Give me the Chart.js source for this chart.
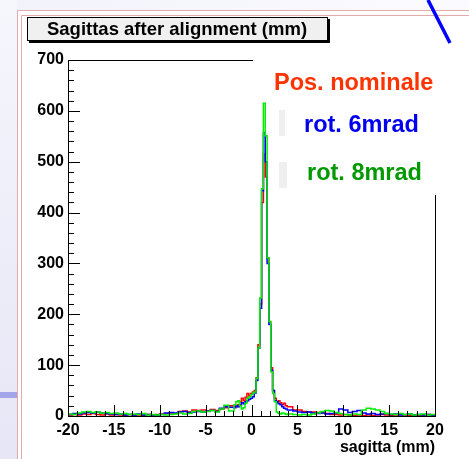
<!DOCTYPE html>
<html>
<head>
<meta charset="utf-8">
<script src="https://cdn.jsdelivr.net/npm/chart.js@4.4.0/dist/chart.umd.min.js"></script>
<style>
  body { margin: 0; background: #fff; }
  canvas { display: block; }
</style>
</head>
<body>
<canvas id="sagitta-chart" width="469" height="459"></canvas>
<script>
// Histogram bin edges (mm): coarse tails, fine bins round the peak
var binEdges = [
  -20, -19.5, -19, -18.5, -18, -17.5, -17, -16.5, -16, -15.5, -15, -14.5, -14, -13.5, -13, -12.5, -12, -11.5,
  -11, -10.5, -10, -9.5, -9, -8.5, -8, -7.5, -7, -6.5, -6, -5.5, -5, -4.5, -4, -3.5, -3, -2.5,
  -1.9, -1.7, -1.5, -1.3, -1.1, -0.9, -0.7, -0.5, -0.3, -0.1, 0.1, 0.3, 0.5, 0.7, 0.9, 1.1, 1.3, 1.5,
  1.7, 1.9, 2.1, 2.3, 2.5, 2.7, 2.9, 3.1, 3.3, 3.5, 3.7, 3.9,
  4.1, 4.5, 5, 5.5, 6, 6.5, 7, 7.5, 8, 8.5, 9, 9.5, 10, 10.5, 11, 11.5, 12, 12.5, 13, 13.5, 14, 14.5,
  15, 15.5, 16, 16.5, 17, 17.5, 18, 18.5, 19, 19.5, 20
];

// Pos. nominale
var nominalCounts = [
  2, 3, 2, 4, 3, 5, 3, 2, 4, 2, 3, 2, 1, 3, 2, 2, 1, 3, 2, 3, 4, 5, 6, 5, 9, 10, 8, 12, 11, 12, 10, 13, 11, 14, 16, 20,
  20, 18, 22, 28, 35, 30, 37, 44, 40, 44, 47, 50, 75, 140, 220, 420, 515, 470, 310, 185, 95, 50, 35, 28, 30, 26, 22, 25, 20, 18,
  18, 12, 12, 9, 8, 8, 7, 6, 5, 3, 3, 2, 3, 2, 1, 2, 1, 2, 1, 2, 3, 2, 1, 2, 3, 2, 1, 2, 1, 2, 3, 2
];
// rot. 6mrad
var rot6Counts = [
  3, 5, 4, 6, 7, 6, 8, 6, 5, 4, 3, 4, 2, 3, 2, 4, 2, 3, 2, 2, 3, 6, 7, 6, 8, 9, 7, 8, 9, 8, 10, 11, 9, 15, 18, 17,
  16, 20, 18, 22, 26, 24, 28, 30, 33, 35, 38, 45, 70, 133, 212, 443, 557, 500, 300, 180, 90, 50, 30, 28, 24, 22, 18, 15, 14, 12,
  12, 10, 8, 7, 8, 6, 5, 6, 4, 5, 6, 14, 12, 7, 9, 11, 6, 4, 5, 3, 4, 5, 3, 4, 2, 3, 4, 2, 3, 2, 3, 2
];
// rot. 8mrad
var rot8Counts = [
  4, 3, 6, 8, 9, 7, 8, 6, 7, 5, 6, 4, 5, 3, 4, 3, 5, 2, 3, 2, 3, 2, 3, 4, 6, 4, 5, 9, 10, 8, 9, 11, 8, 14, 21, 10,
  22, 28, 30, 20, 14, 16, 25, 35, 38, 42, 45, 47, 74, 133, 232, 447, 615, 551, 311, 186, 87, 44, 28, 8, 5, 4, 6, 5, 3, 4,
  4, 3, 2, 3, 2, 4, 6, 9, 11, 10, 7, 5, 3, 2, 4, 3, 12, 15, 14, 12, 9, 5, 4, 3, 5, 3, 4, 2, 3, 4, 2, 3
];

var seriesLabels = ['Pos. nominale', 'rot. 6mrad', 'rot. 8mrad'];
var titleText = 'Sagittas after alignment (mm)';
var xTitle = 'sagitta (mm)';

var fontFamily = "'Liberation Sans', Arial, Helvetica, sans-serif";

// turn counts + edges into step points (left edge, count), closing the last bin
makeSteps = function (counts) {
  var pts = [];
  for (let i = 0; i < counts.length; i++) {
    pts.push({ x: binEdges[i], y: counts[i] });
  }
  pts.push({ x: binEdges[binEdges.length - 1], y: counts[counts.length - 1] });
  return pts;
}

// Slide background, frame, inward ticks, title box and text labels
var rootStylePlugin = {
  id: 'rootStyle',
  beforeDraw: function (chart) {
    const ctx = chart.ctx;
    ctx.save();
    ctx.fillStyle = '#ffffff';
    ctx.fillRect(0, 0, chart.width, chart.height);

    // slide lavender strips
    let g = ctx.createLinearGradient(0, 0, 0, chart.height);
    g.addColorStop(0, '#f6f6fd');
    g.addColorStop(1, '#e6e6f6');
    ctx.fillStyle = g;
    ctx.fillRect(0, 0, 17, chart.height);
    let g2 = ctx.createLinearGradient(0, 0, chart.width, 0);
    g2.addColorStop(0, '#f2f2fb');
    g2.addColorStop(1, '#fbfbff');
    ctx.fillStyle = g2;
    ctx.fillRect(17, 0, chart.width - 17, 10);

    ctx.fillStyle = '#a4a4e8';
    ctx.fillRect(0, 392, 17, 6);

    // pink double frame
    ctx.strokeStyle = '#e2aaaa';
    ctx.lineWidth = 1;
    ctx.beginPath();
    ctx.moveTo(17.5, chart.height); ctx.lineTo(17.5, 10.5); ctx.lineTo(chart.width, 10.5);
    ctx.moveTo(21.5, chart.height); ctx.lineTo(21.5, 15.5); ctx.lineTo(chart.width, 15.5);
    ctx.stroke();

    // blue slide stroke top right
    ctx.strokeStyle = '#0000ff';
    ctx.lineWidth = 3.5;
    ctx.beginPath();
    ctx.moveTo(428, 0);
    ctx.lineTo(450, 43);
    ctx.stroke();
    ctx.restore();
  },
  beforeDatasetsDraw: function (chart) {
    const ctx = chart.ctx;
    ctx.save();
    ctx.fillStyle = '#efefef';
    ctx.fillRect(279, 110, 6, 26);
    ctx.fillRect(279, 162, 8, 26);
    ctx.restore();
  },
  afterDatasetsDraw: function (chart) {
    const ctx = chart.ctx;
    const xs = chart.scales.x;
    const ys = chart.scales.y;
    const a = chart.chartArea;
    ctx.save();
    ctx.strokeStyle = '#000000';
    ctx.lineWidth = 1;
    ctx.beginPath();
    // partial top and right frame lines (rest hidden by the legend boxes)
    ctx.moveTo(a.left, Math.round(a.top) + 0.5);
    ctx.lineTo(253, Math.round(a.top) + 0.5);
    ctx.moveTo(Math.round(a.right) + 0.5, 195);
    ctx.lineTo(Math.round(a.right) + 0.5, a.bottom);
    // x ticks, pointing up into the frame
    for (let v = -20; v <= 20; v++) {
      const px = Math.round(xs.getPixelForValue(v)) + 0.5;
      const len = (v % 5 === 0) ? 11 : 5;
      ctx.moveTo(px, a.bottom);
      ctx.lineTo(px, a.bottom - len);
    }
    // y ticks, pointing right into the frame
    for (let v = 0; v <= 700; v += 20) {
      const py = Math.round(ys.getPixelForValue(v)) + 0.5;
      const len = (v % 100 === 0) ? 12 : 6;
      ctx.moveTo(a.left, py);
      ctx.lineTo(a.left + len, py);
    }
    ctx.stroke();
    ctx.restore();
  },
  afterDraw: function (chart) {
    const ctx = chart.ctx;
    ctx.save();
    // title box with shadow
    ctx.fillStyle = '#000000';
    ctx.fillRect(29, 19, 301, 24);
    ctx.fillStyle = '#f0f0f0';
    ctx.fillRect(27, 17, 301, 24);
    ctx.strokeStyle = '#000000';
    ctx.lineWidth = 1;
    ctx.strokeRect(27.5, 17.5, 300, 23);
    ctx.fillStyle = '#000000';
    ctx.font = 'bold 18.5px ' + fontFamily;
    ctx.textAlign = 'center';
    ctx.textBaseline = 'middle';
    ctx.fillText(titleText, 177, 30);

    // x axis title
    ctx.font = 'bold 16px ' + fontFamily;
    ctx.textAlign = 'right';
    ctx.textBaseline = 'alphabetic';
    ctx.fillText(xTitle, 435, 452);

    // coloured labels
    ctx.textAlign = 'left';
    ctx.font = 'bold 23.5px ' + fontFamily;
    ctx.fillStyle = '#ff3300';
    ctx.fillText(seriesLabels[0], 274, 90);
    ctx.fillStyle = '#0000ee';
    ctx.fillText(seriesLabels[1], 304, 132);
    ctx.fillStyle = '#009900';
    ctx.fillText(seriesLabels[2], 307, 180);
    ctx.restore();
  }
};

var tickFont = { family: fontFamily, size: 16, weight: 'bold' };

var sagittaChart = new Chart(document.getElementById('sagitta-chart').getContext('2d'), {
  type: 'line',
  data: {
    datasets: [
      { label: seriesLabels[0], data: makeSteps(nominalCounts), borderColor: '#ff0000', order: 3 },
      { label: seriesLabels[1], data: makeSteps(rot6Counts), borderColor: '#0000ff', order: 2 },
      { label: seriesLabels[2], data: makeSteps(rot8Counts), borderColor: '#00ee00', order: 1 }
    ].map(function (ds) {
      ds.stepped = true;
      ds.borderWidth = 1.5;
      ds.pointRadius = 0;
      ds.fill = false;
      return ds;
    })
  },
  options: {
    responsive: false,
    animation: false,
    layout: { padding: { top: 60, right: 34, left: 0, bottom: 0 } },
    plugins: {
      legend: { display: false },
      tooltip: { enabled: false }
    },
    scales: {
      x: {
        type: 'linear',
        min: -20,
        max: 20,
        grid: { display: false, drawTicks: false },
        border: { display: true, color: '#000000', width: 1 },
        ticks: { stepSize: 5, color: '#000000', font: tickFont, padding: 5, maxRotation: 0, autoSkip: false },
        afterFit: function (scale) { scale.height = 43; }
      },
      y: {
        min: 0,
        max: 700,
        grid: { display: false, drawTicks: false },
        border: { display: true, color: '#000000', width: 1 },
        ticks: { stepSize: 100, color: '#000000', font: { family: fontFamily, size: 16, weight: 'bold' }, padding: 4 },
        afterFit: function (scale) { scale.width = 68; }
      }
    }
  },
  plugins: [rootStylePlugin]
});
</script>
</body>
</html>
